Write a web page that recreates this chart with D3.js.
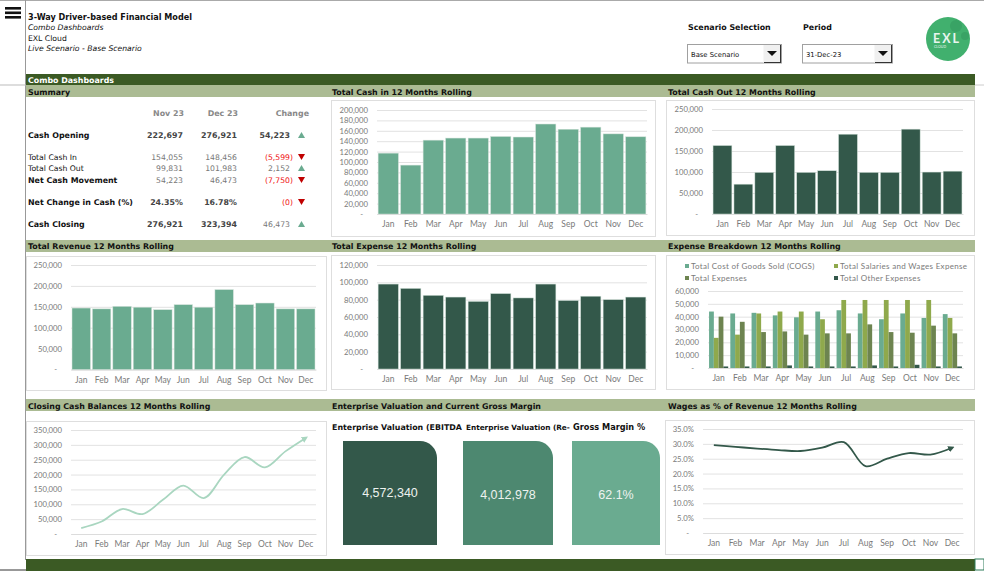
<!DOCTYPE html>
<html>
<head>
<meta charset="utf-8">
<script src="https://cdn.jsdelivr.net/npm/d3@7"></script>
<style>
  html, body { margin: 0; padding: 0; background: #fff; overflow: hidden; }
  text { font-family: "Lato", "Open Sans", sans-serif; }
  .hd { font-family: "DejaVu Sans", sans-serif; font-weight: bold; font-size: 7.9px; fill: #111; }
  .tb { font-family: "DejaVu Sans", sans-serif; font-size: 7.7px; }
  .dd { font-family: "DejaVu Sans", sans-serif; font-size: 6.8px; }
  .axis text { font-family: "Lato", sans-serif; font-size: 8.5px; fill: #7a7a7a; }
  .axis.yaxis text { font-size: 7.7px; }
  .axis .domain { stroke: #dcdcdc; }
  .axis .tick line { stroke: #e2e2e2; }
</style>
</head>
<body>
<svg id="chart" width="984" height="571"></svg>
<script>
const months = ["Jan", "Feb", "Mar", "Apr", "May", "Jun", "Jul", "Aug", "Sep", "Oct", "Nov", "Dec"];

const cashIn = [117000, 94000, 142000, 146000, 146000, 149000, 148000, 173000, 163000, 167000, 154055, 148456];
const cashOut = [163000, 71000, 99000, 163000, 99000, 103000, 190000, 99000, 99000, 202000, 99831, 101983];
const revenue = [147000, 145000, 151000, 149000, 143000, 155000, 149000, 191000, 155000, 159000, 145000, 145000];
const expense = [98000, 93000, 85000, 83000, 78000, 87000, 82000, 98000, 79000, 84000, 80000, 83000];

const cogs = [44000, 42500, 43000, 41000, 39500, 44000, 45000, 42500, 38000, 42500, 39000, 42000];
const salaries = [23500, 26000, 42500, 44000, 44000, 38000, 53000, 53000, 53000, 53000, 53000, 39000];
const totalExpenses = [40000, 36000, 28000, 28500, 26000, 27000, 27000, 34000, 28000, 27500, 33000, 27000];
const otherExpenses = [1200, 1200, 1200, 2000, 1200, 1200, 1200, 2000, 1200, 2500, 1200, 1200];
const breakdownNames = ["Total Cost of Goods Sold (COGS)", "Total Salaries and Wages Expense", "Total Expenses", "Total Other Expenses"];

const closingCash = [20000, 42000, 84000, 67000, 115000, 163000, 121000, 200000, 259000, 224000, 278000, 323394];
const wagesPct = [0.296, 0.290, 0.284, 0.279, 0.276, 0.287, 0.306, 0.225, 0.250, 0.269, 0.264, 0.287];

const summaryLabels = ["Cash Opening", "Total Cash In", "Total Cash Out", "Net Cash Movement", "Net Change in Cash (%)", "Cash Closing"];
const summaryNov = ["222,697", "154,055", "99,831", "54,223", "24.35%", "276,921"];
const summaryDec = ["276,921", "148,456", "101,983", "46,473", "16.78%", "323,394"];
const summaryChange = ["54,223", "(5,599)", "2,152", "(7,750)", "(0)", "46,473"];
const summaryUp = [true, false, true, false, false, true];
const summaryBold = [true, false, false, true, true, true];

const cardTitles = ["Enterprise Valuation (EBITDA", "Enterprise Valuation (Re-", "Gross Margin %"];
const cardValues = ["4,572,340", "4,012,978", "62.1%"];

const GREEN = "#6aab90", DARK = "#33584a", MID = "#4d8870", OLIVE = "#8fa94c", MOSS = "#6d8450", MINT = "#a9d6c0";

const svg = d3.select("#chart");

function rect(x, y, w, h, fill, stroke) {
  return svg.append("rect").attr("x", x).attr("y", y).attr("width", w).attr("height", h)
    .attr("fill", fill).attr("stroke", stroke || "none");
}

function label(x, y, str, cls, fill, anchor) {
  return svg.append("text").attr("x", x).attr("y", y).attr("class", cls)
    .attr("fill", fill || "#111").attr("text-anchor", anchor || "start").text(str);
}

const numFmt = d => d === 0 ? "-" : d3.format(",")(d);
const pctFmt = d => d === 0 ? "-" : d3.format(".1%")(d);

// frame lines and bands
svg.append("line").attr("x1", 0).attr("x2", 984).attr("y1", 0.5).attr("y2", 0.5).attr("stroke", "#aaa");
svg.append("line").attr("x1", 25.5).attr("x2", 25.5).attr("y1", 0).attr("y2", 560).attr("stroke", "#999");
svg.append("line").attr("x1", 0).attr("x2", 26).attr("y1", 85).attr("y2", 85).attr("stroke", "#bbb");
svg.append("line").attr("x1", 975).attr("x2", 984).attr("y1", 85).attr("y2", 85).attr("stroke", "#ccc");
svg.append("line").attr("x1", 0).attr("x2", 26).attr("y1", 570).attr("y2", 570).attr("stroke", "#333");
rect(26, 74, 949, 11, "#3b5a24");
rect(26, 559, 949, 12, "#3b5a24");
rect(975, 559, 9, 11, "#fff", "#2f7d5a");
[85, 240, 399].forEach(y => rect(26, y, 949, 12, "#abbb93"));

// hamburger
[7, 11.5, 16].forEach(y => rect(5, y, 16, 2.6, "#111"));

// header text
label(28, 19.5, "3-Way Driver-based Financial Model", "hd").style("font-size", "8.1px");
label(28, 30, "Combo Dashboards", "tb").attr("font-style", "italic");
label(28, 41, "EXL Cloud", "tb");
label(28, 51, "Live Scenario - Base Scenario", "tb").attr("font-style", "italic");
label(28, 83, "Combo Dashboards", "hd").style("fill", "#fff");

label(688, 30, "Scenario Selection", "hd");
label(803, 30, "Period", "hd");

function dropdown(x, w, str) {
  rect(x + 0.5, 44.5, w, 18.5, "#fff", "#a0a0a0");
  rect(x + w - 17.5, 45, 17.5, 18, "#f0f0f0");
  svg.append("line").attr("x1", x + w - 0.5).attr("x2", x + w - 0.5).attr("y1", 45).attr("y2", 63).attr("stroke", "#333");
  svg.append("line").attr("x1", x + w - 17).attr("x2", x + w).attr("y1", 62.5).attr("y2", 62.5).attr("stroke", "#333");
  svg.append("path").attr("fill", "#111")
    .attr("d", d3.line()([[x + w - 14, 51], [x + w - 4, 51], [x + w - 9, 56]]));
  label(x + 4, 56.5, str, "dd");
}
dropdown(687, 94, "Base Scenario");
dropdown(802, 90, "31-Dec-23");

// logo
svg.append("circle").attr("cx", 948).attr("cy", 39).attr("r", 22).attr("fill", "#41b06e");
svg.append("circle").attr("cx", 956).attr("cy", 26).attr("r", 6).attr("fill", "#39a365");
svg.append("circle").attr("cx", 965).attr("cy", 36).attr("r", 4).attr("fill", "#39a365");
label(933, 43, "EXL", "").attr("font-size", "12.5px").attr("font-weight", "bold").attr("letter-spacing", "2px").style("fill", "#e8f5ee");
label(934, 48, "CLOUD", "").attr("font-size", "3.5px").style("fill", "#e8f5ee");

// section titles
label(28, 94.5, "Summary", "hd");
label(332, 94.5, "Total Cash in 12 Months Rolling", "hd");
label(668, 94.5, "Total Cash Out 12 Months Rolling", "hd");
label(28, 249, "Total Revenue 12 Months Rolling", "hd");
label(332, 249, "Total Expense 12 Months Rolling", "hd");
label(668, 249, "Expense Breakdown 12 Months Rolling", "hd");
label(28, 408.5, "Closing Cash Balances 12 Months Rolling", "hd");
label(332, 408.5, "Enterprise Valuation and Current Gross Margin", "hd");
label(668, 408.5, "Wages as % of Revenue 12 Months Rolling", "hd");

// summary table
const rowY = [138, 160, 171, 183, 205, 227];
label(184, 116, "Nov 23", "hd", null, "end").style("fill", "#888");
label(238, 116, "Dec 23", "hd", null, "end").style("fill", "#888");
label(309, 116, "Change", "hd", null, "end").style("fill", "#888");
summaryLabels.forEach((name, i) => {
  const y = rowY[i];
  label(28, y, name, summaryBold[i] ? "hd" : "tb");
  const heavy = i === 0 || i === 4 || i === 5;
  const cls = heavy ? "hd" : "tb";
  const valFill = heavy ? "#444" : "#777";
  label(183, y, summaryNov[i], cls, null, "end").style("fill", valFill);
  label(237, y, summaryDec[i], cls, null, "end").style("fill", valFill);
  const up = summaryUp[i];
  const chCls = i === 0 ? "hd" : "tb";
  label(up ? 290 : 293, y, summaryChange[i], chCls, null, "end").style("fill", up ? (i === 0 ? "#444" : "#777") : "#f01010");
  const ax = 301.5, ay = y - 3;
  svg.append("path").attr("fill", up ? GREEN : "#c00000")
    .attr("d", d3.line()(up
      ? [[ax - 3.5, ay + 3], [ax + 3.5, ay + 3], [ax, ay - 3]]
      : [[ax - 3.5, ay - 3], [ax + 3.5, ay - 3], [ax, ay + 3]]));
});

// shared chart scaffold: frame, scales, axes
function scaffold(fx, fy, fw, fh, x0, x1, yTop, yBottom, yMax, step, fmt) {
  rect(fx + 0.5, fy + 0.5, fw, fh, "#fff", "#dedede");
  const x = d3.scaleBand().domain(months).range([x0, x1]).paddingInner(0.1).paddingOuter(0.05);
  const y = d3.scaleLinear().domain([0, yMax]).range([yBottom, yTop]);
  const yAxis = svg.append("g").attr("class", "axis yaxis").attr("transform", `translate(${x0},0)`)
    .call(d3.axisLeft(y).tickValues(d3.range(0, yMax + step / 2, step)).tickFormat(fmt).tickSize(-(x1 - x0)).tickPadding(9));
  yAxis.select(".domain").remove();
  yAxis.selectAll(".tick").filter(d => d === 0).select("text").attr("dx", -5);
  svg.append("g").attr("class", "axis").attr("transform", `translate(0,${yBottom})`)
    .call(d3.axisBottom(x).tickSize(0).tickPadding(7));
  return { x, y };
}

function barChart(values, color, fx, fy, fw, fh, x0, x1, yTop, yBottom, yMax, step) {
  const { x, y } = scaffold(fx, fy, fw, fh, x0, x1, yTop, yBottom, yMax, step, numFmt);
  svg.append("g").selectAll("rect").data(values).join("rect")
    .attr("x", (d, i) => x(months[i]))
    .attr("width", x.bandwidth())
    .attr("y", d => y(d))
    .attr("height", d => yBottom - y(d))
    .attr("fill", color)
    .attr("stroke", "#cfe0d7")
    .attr("stroke-width", 0.5);
}

function lineChart(values, color, fx, fy, fw, fh, x0, x1, yTop, yBottom, yMax, step, fmt, id) {
  const { x, y } = scaffold(fx, fy, fw, fh, x0, x1, yTop, yBottom, yMax, step, fmt);
  const marker = svg.append("marker").attr("id", id).attr("viewBox", "0 0 10 10")
    .attr("refX", 6).attr("refY", 5).attr("markerWidth", 3.6).attr("markerHeight", 3.6).attr("orient", "auto");
  marker.append("path").attr("d", "M0,0L10,5L0,10Z").attr("fill", color);
  const line = d3.line()
    .x((d, i) => x(months[i]) + x.bandwidth() / 2)
    .y(d => y(d))
    .curve(d3.curveCatmullRom.alpha(0.5));
  svg.append("path").datum(values).attr("d", line)
    .attr("fill", "none").attr("stroke", color).attr("stroke-width", 1.8)
    .attr("marker-end", `url(#${id})`);
}

barChart(cashIn, GREEN, 331, 100, 324, 136, 377, 647, 110, 214, 200000, 20000);
barChart(cashOut, DARK, 666, 100, 308, 135, 712, 963, 109, 214, 250000, 50000);
barChart(revenue, GREEN, 26, 256, 300, 134, 71, 316, 265, 369.5, 250000, 50000);
barChart(expense, DARK, 331, 255, 324, 134, 377, 647, 265, 369, 120000, 20000);

// grouped bars
{
  const { x, y } = scaffold(666, 255, 308, 134, 708, 963, 291, 368, 60000, 10000, numFmt);
  const x1 = d3.scaleBand().domain([0, 1, 2, 3]).range([0, x.bandwidth()]);
  const series = [cogs, salaries, totalExpenses, otherExpenses];
  const colors = [GREEN, OLIVE, MOSS, DARK];
  series.forEach((values, s) => {
    svg.append("g").selectAll("rect").data(values).join("rect")
      .attr("x", (d, i) => x(months[i]) + x1(s))
      .attr("width", x1.bandwidth())
      .attr("y", d => y(d))
      .attr("height", d => 368 - y(d))
      .attr("fill", colors[s]);
  });
  const legendX = [685, 834], legendY = [266, 278];
  breakdownNames.forEach((name, s) => {
    const lx = legendX[s % 2], ly = legendY[Math.floor(s / 2)];
    rect(lx, ly - 2, 4, 4, colors[s]);
    label(lx + 6, ly + 3, name, "").attr("font-size", "8px").attr("letter-spacing", "0.3px").style("fill", "#7a7a7a");
  });
}

lineChart(closingCash, MINT, 26, 421, 300, 134, 71, 316, 430, 534, 350000, 50000, numFmt, "arrowClosing");
lineChart(wagesPct, DARK, 665, 420, 309, 134, 703, 963, 429, 533, 0.35, 0.05, pctFmt, "arrowWages");

// KPI cards
const cardX = [343, 463, 572], cardW = [94, 90, 88], cardFill = [DARK, MID, GREEN], cardTextY = [497, 499, 499];
const titleX = [332, 466, 573], titleSize = [7.9, 7.3, 8.2];
cardValues.forEach((v, i) => {
  const x = cardX[i], w = cardW[i], r = 17, top = 441, bottom = 545;
  const p = d3.path();
  p.moveTo(x, top);
  p.lineTo(x + w - r, top);
  p.arcTo(x + w, top, x + w, top + r, r);
  p.lineTo(x + w, bottom);
  p.lineTo(x, bottom);
  p.closePath();
  svg.append("path").attr("d", p.toString()).attr("fill", cardFill[i]);
  label(x + w / 2, cardTextY[i], v, "", "#eee", "middle")
    .style("font-family", "'Liberation Sans', Arial, sans-serif").style("font-size", "12.5px").style("fill", "#eef2ef");
  label(titleX[i], 430, cardTitles[i], "hd").style("font-size", titleSize[i] + "px");
});
</script>
</body>
</html>
